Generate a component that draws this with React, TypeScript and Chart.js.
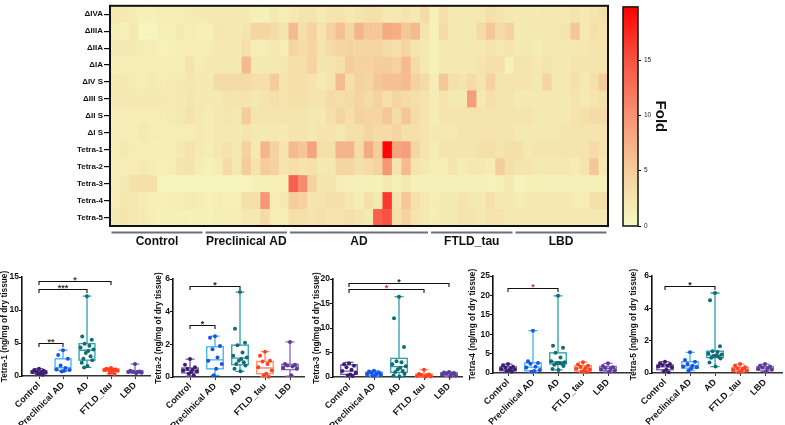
import React, { useEffect, useRef } from "react";
import { Chart, registerables } from "chart.js";
Chart.register(...registerables);

const FONT = 'Arial, "Liberation Sans", sans-serif';

// ---------------- Heatmap data ----------------
const rowLabels = ["ΔIVA", "ΔIIIA", "ΔIIA", "ΔIA", "ΔIV S", "ΔIII S", "ΔII S", "ΔI S", "Tetra-1", "Tetra-2", "Tetra-3", "Tetra-4", "Tetra-5"];
const groupNames = ["Control", "Preclinical AD", "AD", "FTLD_tau", "LBD"];
const groupSizes = [10, 9, 15, 9, 10];

const foldIVA = [2, 2, 1.5, 1.2, 1.2, 1.5, 1.5, 1.5, 1.8, 1.8, 1.8, 1.8, 1.8, 1.8, 1.8, 1.2, 1.0, 2.0, 1.5, 2.0, 2.5, 2.5, 1.8, 2.5, 2.5, 2.0, 2.5, 3, 3, 2, 2, 2.5, 2, 3.5, 1.0, 3, 2, 2, 2, 2.2, 3, 2.5, 2, 1.8, 1.8, 1.8, 2, 2, 2, 2.8, 2, 2.5, 3];
const foldIIIA = [1.5, 1.0, 2.0, 0.5, 0.5, 1.2, 1.2, 1.8, 1.5, 1.2, 1.2, 2.2, 1.8, 1.8, 2.5, 4.0, 4.0, 3.5, 2.5, 6.5, 3.0, 4.5, 2.5, 4.5, 6.0, 4.0, 7.0, 5.5, 5.5, 8.0, 7.5, 5.5, 6.5, 2.5, 1.0, 3.5, 2.0, 2.0, 2.0, 3.5, 5.5, 3.5, 4.5, 1.8, 1.8, 1.8, 1.8, 2.0, 2.5, 5.5, 2.0, 3.0, 2.5];
const foldIIA = [1.8, 1.8, 1.8, 1.5, 1.5, 1.0, 1.2, 1.5, 1.5, 1.5, 1.5, 1.8, 1.8, 1.8, 3.0, 1.5, 1.5, 1.8, 1.5, 4.0, 3.5, 4.0, 2.5, 3.5, 4.0, 4.5, 4.0, 4.0, 4.0, 3.5, 3.0, 4.0, 2.5, 2.0, 1.0, 2.0, 2.0, 2.0, 2.0, 2.0, 2.5, 2.0, 2.5, 1.8, 2.0, 1.5, 2.0, 2.0, 2.0, 2.0, 2.2, 2.5, 2.5];
const foldIA = [1.3, 1.5, 1.5, 1.5, 1.5, 1.5, 1.5, 1.5, 2.8, 1.5, 1.8, 1.8, 1.8, 1.8, 6.5, 1.8, 1.8, 2.0, 2.2, 3.0, 3.0, 4.5, 2.5, 2.5, 3.0, 5.0, 4.5, 4.5, 5.0, 5.0, 4.5, 6.5, 3.5, 2.0, 1.0, 2.0, 2.0, 2.0, 2.0, 2.5, 3.0, 3.0, 1.0, 2.5, 2.5, 2.0, 2.5, 2.0, 2.0, 2.5, 2.5, 2.5, 2.5];
const foldIVS = [2.0, 2.0, 1.7, 1.5, 1.8, 1.5, 1.8, 1.8, 2.2, 1.8, 1.8, 3.5, 3.5, 3.5, 3.5, 3.0, 3.0, 5.0, 2.5, 3.0, 3.0, 2.5, 1.8, 2.5, 6.5, 3.0, 4.5, 4.0, 5.5, 6.0, 6.0, 6.5, 4.5, 3.5, 1.5, 5.5, 3.0, 2.5, 3.5, 2.5, 4.5, 2.5, 2.5, 2.5, 2.5, 2.0, 4.0, 2.0, 2.0, 3.0, 2.0, 3.0, 5.0];
const foldIIIS = [1.8, 1.8, 1.8, 1.8, 1.8, 1.8, 1.8, 1.8, 2.3, 1.8, 1.8, 1.8, 2.5, 2.5, 2.5, 2.0, 2.5, 3.0, 2.5, 3.0, 3.0, 2.5, 2.5, 3.5, 3.0, 3.5, 4.0, 3.5, 4.5, 3.0, 4.0, 3.5, 3.0, 2.5, 1.5, 2.5, 2.0, 2.0, 9.0, 2.0, 3.0, 2.5, 2.5, 1.8, 1.8, 2.0, 2.0, 2.0, 2.0, 2.5, 1.8, 2.5, 3.0];
const foldIIS = [1.5, 1.5, 1.5, 1.5, 1.3, 1.5, 1.8, 2.0, 2.6, 2.0, 1.5, 2.0, 2.3, 2.0, 5.0, 2.5, 2.5, 2.5, 2.5, 2.5, 2.5, 2.0, 2.0, 3.0, 4.0, 3.0, 4.5, 4.0, 4.0, 5.5, 3.5, 5.5, 3.5, 2.5, 1.5, 2.5, 2.5, 2.5, 2.5, 2.5, 2.5, 2.5, 2.5, 2.5, 2.5, 2.0, 2.0, 2.0, 2.0, 2.5, 3.0, 3.5, 3.5];
const foldIS = [1.5, 1.5, 1.5, 2.0, 1.5, 1.5, 1.5, 1.5, 1.5, 1.8, 1.5, 2.0, 1.8, 1.8, 2.5, 2.0, 1.8, 2.0, 1.8, 2.5, 2.5, 2.0, 2.5, 2.5, 2.0, 3.0, 3.0, 4.0, 3.5, 3.5, 4.0, 3.0, 3.0, 2.5, 2.0, 2.0, 2.0, 2.5, 2.5, 2.5, 2.5, 2.5, 2.5, 2.0, 2.0, 2.0, 2.0, 2.0, 2.5, 2.5, 2.5, 2.5, 2.5];
const foldT1 = [1.5, 2.0, 1.5, 1.5, 1.3, 1.5, 1.5, 1.8, 2.8, 1.8, 1.5, 2.2, 2.8, 2.0, 4.5, 2.0, 7.0, 4.5, 2.5, 6.5, 5.5, 8.5, 3.0, 3.0, 7.0, 7.0, 3.5, 8.0, 5.0, 19.5, 8.5, 9.0, 4.0, 2.5, 1.5, 2.5, 2.5, 2.5, 2.5, 3.0, 3.0, 2.5, 3.0, 3.0, 2.0, 2.5, 2.5, 2.5, 2.5, 2.5, 2.5, 3.5, 2.5];
const foldT2 = [1.5, 1.5, 1.5, 1.8, 1.5, 1.2, 1.5, 2.5, 2.8, 1.5, 1.0, 1.5, 3.5, 2.0, 5.0, 2.5, 5.0, 4.5, 2.5, 3.0, 2.5, 3.0, 2.0, 2.0, 4.0, 4.0, 3.0, 3.5, 4.5, 9.5, 2.5, 6.5, 2.5, 2.0, 1.5, 1.5, 2.5, 1.5, 2.0, 2.0, 1.5, 5.0, 3.0, 2.5, 2.5, 2.0, 2.0, 2.0, 2.0, 1.5, 2.5, 5.5, 2.0];
const foldT3 = [1.5, 1.8, 3.0, 3.0, 3.0, 0.6, 0.6, 0.6, 0.6, 0.6, 0.6, 0.6, 0.6, 0.6, 0.6, 1.0, 1.0, 1.2, 1.0, 14.0, 10.5, 4.5, 2.5, 2.5, 1.5, 0.8, 0.8, 1.0, 1.0, 2.0, 1.0, 2.0, 1.0, 0.8, 0.8, 0.8, 0.8, 0.8, 0.8, 0.8, 1.0, 1.0, 2.0, 0.6, 1.0, 1.0, 1.0, 0.8, 0.8, 0.8, 1.0, 1.0, 1.0];
const foldT4 = [1.5, 2.2, 2.0, 1.5, 1.2, 1.2, 1.5, 1.5, 1.8, 1.5, 1.0, 1.5, 1.2, 1.2, 3.0, 3.0, 9.5, 1.5, 2.0, 5.0, 4.5, 2.5, 2.5, 3.0, 3.0, 2.0, 1.5, 3.0, 2.0, 16.5, 2.5, 5.5, 3.0, 2.0, 1.5, 2.0, 2.0, 2.5, 2.0, 2.0, 3.0, 2.0, 1.8, 1.5, 1.8, 1.8, 1.8, 1.8, 1.8, 1.5, 1.5, 3.0, 3.0];
const foldT5 = [1.8, 2.5, 2.0, 1.8, 1.3, 1.0, 1.0, 1.2, 1.0, 1.0, 1.0, 1.3, 1.5, 1.5, 2.0, 2.0, 3.5, 1.5, 1.5, 3.0, 3.0, 2.5, 3.0, 2.5, 2.5, 3.0, 2.5, 2.0, 14.0, 15.0, 3.0, 4.5, 2.5, 2.0, 1.5, 2.0, 2.0, 2.5, 2.5, 2.0, 2.5, 2.5, 2.0, 1.8, 1.8, 2.0, 2.0, 1.8, 1.8, 1.8, 2.0, 2.0, 2.0];
const heatRows = [foldIVA, foldIIIA, foldIIA, foldIA, foldIVS, foldIIIS, foldIIS, foldIS, foldT1, foldT2, foldT3, foldT4, foldT5];

const foldMax = 19.8;
const foldTicks = [0, 5, 10, 15];
const foldStops: [number, number[]][] = [
  [0, [247, 247, 192]],
  [2, [245, 233, 178]],
  [5, [245, 205, 155]],
  [10, [246, 146, 114]],
  [15, [248, 82, 66]],
  [19.8, [255, 0, 0]],
];

function foldColor(v: number) {
  for (let i = 1; i < foldStops.length; i++) {
    const [v1, c1] = foldStops[i];
    const [v0, c0] = foldStops[i - 1];
    if (v <= v1 || i === foldStops.length - 1) {
      const t = Math.max(0, Math.min(1, (v - v0) / (v1 - v0)));
      const c = c0.map((a, k) => Math.round(a + (c1[k] - a) * t));
      return `rgb(${c[0]},${c[1]},${c[2]})`;
    }
  }
  return "rgb(255,0,0)";
}

// ---------------- Box plot data ----------------
const boxColors = ["#7450ae", "#38b4ee", "#2a9fae", "#ff8a66", "#8a68c0"];
const pointColors = ["#3b2070", "#1f52e4", "#0f6d73", "#ff4020", "#5c3c98"];

const tetra1Points = [
  [1.1, 0.9, 0.8, 0.7, 0.6, 0.6, 0.5, 0.4, 0.3, 0.2],
  [3.9, 3.2, 2.6, 1.6, 1.2, 1.0, 0.9, 0.8, 0.7],
  [12.1, 6.0, 5.5, 4.9, 4.6, 4.3, 4.0, 3.8, 3.5, 3.0, 2.6, 2.4, 2.0, 1.5, 1.3],
  [1.2, 1.1, 1.0, 1.0, 0.9, 0.9, 0.8, 0.7, 0.5, 0.3],
  [1.8, 0.8, 0.7, 0.7, 0.6, 0.6, 0.5, 0.4],
];
const tetra1Box = [[0.2, 0.4, 0.6, 0.8, 1.1], [0.7, 0.85, 1.25, 2.6, 3.9], [1.3, 2.4, 3.9, 4.9, 12.1], [0.3, 0.7, 0.9, 1.1, 1.2], [0.4, 0.5, 0.65, 0.8, 1.8]];
const tetra1Ticks = [0, 5, 10, 15];
const tetra1Sig: [number, number, number, string, string][] = [[1, 2, 5.0, "**", "#3a3a22"], [1, 3, 13.2, "***", "#1f3a22"], [1, 4, 14.4, "*", "#1f4a22"]];

const tetra2Points = [
  [1.1, 0.75, 0.6, 0.5, 0.45, 0.4, 0.35, 0.3, 0.2, 0.1],
  [2.5, 2.4, 1.9, 1.7, 1.2, 1.0, 0.8, 0.5, 0.1],
  [5.2, 2.95, 2.1, 1.95, 1.5, 1.3, 1.2, 1.1, 1.0, 0.9, 0.8, 0.7, 0.5, 0.35],
  [1.55, 1.3, 1.0, 0.95, 0.8, 0.6, 0.4, 0.2, 0.1, 0.02],
  [2.15, 0.8, 0.75, 0.7, 0.65, 0.55, 0.5, 0.1],
];
const tetra2Box = [[0.05, 0.25, 0.4, 0.55, 1.1], [0.1, 0.5, 1.05, 1.85, 2.5], [0.35, 0.75, 1.15, 1.95, 5.2], [0.02, 0.2, 0.55, 0.95, 1.55], [0.05, 0.45, 0.65, 0.78, 2.15]];
const tetra2Ticks = [0, 2, 4, 6];
const tetra2Sig: [number, number, number, string, string][] = [[1, 2, 3.2, "*", "#222"], [1, 3, 5.58, "*", "#222"]];

const tetra3Points = [
  [2.8, 2.6, 2.3, 2.0, 1.5, 1.2, 0.8, 0.5, 0.3, 0.2],
  [1.3, 1.1, 0.9, 0.8, 0.7, 0.6, 0.5, 0.3, 0.2],
  [16.4, 12.0, 6.1, 3.2, 3.0, 2.6, 2.2, 1.9, 1.6, 1.2, 1.0, 0.6, 0.3, 0.1],
  [1.5, 0.6, 0.5, 0.4, 0.3, 0.2, 0.1, 0.05],
  [1.0, 0.9, 0.8, 0.7, 0.6, 0.5, 0.3, 0.1],
];
const tetra3Box = [[0.1, 0.55, 1.2, 2.5, 3.0], [0.1, 0.3, 0.7, 1.0, 1.3], [0.0, 0.95, 2.1, 3.8, 16.4], [0.0, 0.05, 0.2, 0.6, 1.5], [0.1, 0.35, 0.6, 0.9, 1.0]];
const tetra3Ticks = [0, 5, 10, 15, 20];
const tetra3Sig: [number, number, number, string, string][] = [[1, 5, 19.2, "*", "#222"], [1, 4, 17.9, "*", "#d03030"]];

const tetra4Points = [
  [2.3, 2.0, 1.6, 1.4, 1.2, 1.0, 0.9, 0.7, 0.5, 0.3],
  [10.9, 3.0, 2.6, 2.4, 1.6, 1.4, 0.8, 0.5, 0.3],
  [19.9, 7.0, 6.5, 5.2, 4.0, 3.0, 2.8, 2.6, 2.5, 2.4, 2.1, 1.8, 1.0, 0.8],
  [2.8, 2.2, 1.9, 1.6, 1.3, 1.1, 0.9, 0.6, 0.4, 0.2],
  [2.5, 1.8, 1.5, 1.3, 1.1, 0.9, 0.6, 0.3],
];
const tetra4Box = [[0.3, 0.6, 1.0, 1.6, 2.3], [0.3, 0.6, 1.5, 2.6, 10.9], [0.8, 2.3, 2.9, 5.2, 19.9], [0.2, 0.5, 1.2, 1.9, 2.8], [0.3, 0.6, 1.2, 1.7, 2.5]];
const tetra4Ticks = [0, 5, 10, 15, 20, 25];
const tetra4Sig: [number, number, number, string, string][] = [[1, 3, 22.0, "*", "#d03030"]];

const tetra5Points = [
  [0.7, 0.6, 0.55, 0.5, 0.45, 0.4, 0.35, 0.2, 0.1, 0.05],
  [1.28, 0.8, 0.7, 0.55, 0.45, 0.4, 0.35, 0.3, 0.15],
  [4.95, 4.5, 1.65, 1.35, 1.3, 1.2, 1.15, 1.1, 1.05, 1.0, 0.95, 0.9, 0.65, 0.4],
  [0.55, 0.45, 0.35, 0.3, 0.25, 0.2, 0.15, 0.1, 0.05],
  [0.55, 0.45, 0.4, 0.35, 0.3, 0.25, 0.2, 0.1],
];
const tetra5Box = [[0.05, 0.2, 0.38, 0.5, 0.7], [0.15, 0.3, 0.45, 0.7, 1.28], [0.4, 0.95, 1.1, 1.35, 4.95], [0.05, 0.1, 0.2, 0.35, 0.55], [0.1, 0.18, 0.3, 0.4, 0.55]];
const tetra5Ticks = [0, 2, 4, 6];
const tetra5Sig: [number, number, number, string, string][] = [[1, 3, 5.4, "*", "#222"]];

// layout-only constants
const JITTER = [0, -0.2, 0.2, -0.1, 0.1, -0.27, 0.27, 0.05, -0.05, 0.15, -0.15, 0.22, -0.22, 0.02, -0.12];
const BOX_HALF = 0.33;
const CAP_HALF = 0.18;

// ---------------- Components ----------------
function Heatmap() {
  const ref = useRef<HTMLCanvasElement>(null);
  useEffect(() => {
    const nCols = groupSizes.reduce((a, b) => a + b, 0);
    const cells = {
      id: "cells",
      beforeDatasetsDraw(chart: any) {
        const { ctx, scales } = chart;
        const x = scales.x, y = scales.y;
        const h = y.getPixelForValue(1) - y.getPixelForValue(0);
        ctx.save();
        heatRows.forEach((row, r) => {
          const yc = y.getPixelForValue(r);
          row.forEach((v, c) => {
            const x0 = x.getPixelForValue(c);
            const x1 = x.getPixelForValue(c + 1);
            ctx.fillStyle = foldColor(v);
            ctx.fillRect(x0, yc - h / 2, x1 - x0 + 0.6, h + 0.6);
          });
        });
        ctx.restore();
      },
      afterDraw(chart: any) {
        const { ctx, chartArea, scales } = chart;
        const x = scales.x;
        ctx.save();
        ctx.strokeStyle = "#111";
        ctx.lineWidth = 2;
        ctx.strokeRect(chartArea.left, chartArea.top, chartArea.right - chartArea.left, chartArea.bottom - chartArea.top);
        let start = 0;
        groupSizes.forEach((n, g) => {
          const x0 = x.getPixelForValue(start) + 1.5;
          const x1 = x.getPixelForValue(start + n) - 1.5;
          ctx.strokeStyle = "#707070";
          ctx.lineWidth = 2;
          ctx.beginPath();
          ctx.moveTo(x0, chartArea.bottom + 6.5);
          ctx.lineTo(x1, chartArea.bottom + 6.5);
          ctx.stroke();
          ctx.fillStyle = "#111";
          ctx.font = `bold 12px ${FONT}`;
          ctx.textAlign = "center";
          ctx.textBaseline = "middle";
          ctx.fillText(groupNames[g], (x0 + x1) / 2, chartArea.bottom + 16);
          start += n;
        });
        ctx.restore();
      },
    };
    const chart = new Chart(ref.current!, {
      type: "scatter",
      data: { datasets: [{ data: [] }] },
      options: {
        animation: false,
        responsive: false,
        events: [],
        layout: { padding: { top: 2, right: 7, bottom: 24, left: 0 } },
        plugins: { legend: { display: false }, tooltip: { enabled: false } },
        scales: {
          x: { type: "linear", min: 0, max: nCols, display: false },
          y: {
            type: "category",
            labels: rowLabels,
            offset: true,
            border: { display: false },
            grid: { drawOnChartArea: false, drawTicks: true, tickLength: 6, color: "#000", lineWidth: 1.2, offset: false },
            ticks: { color: "#111", padding: 1, font: { family: FONT, size: 8, weight: "bold" } },
            afterFit: (s: any) => { s.width = 110; },
          },
        },
      } as any,
      plugins: [cells],
    });
    return () => chart.destroy();
  }, []);
  return <canvas ref={ref} width={615} height={250} style={{ position: "absolute", left: 0, top: 0 }} />;
}

function ColorBar() {
  const ref = useRef<HTMLCanvasElement>(null);
  useEffect(() => {
    const grad = {
      id: "grad",
      beforeDatasetsDraw(chart: any) {
        const { ctx, chartArea, scales } = chart;
        const y = scales.y;
        const g = ctx.createLinearGradient(0, y.getPixelForValue(0), 0, y.getPixelForValue(foldMax));
        foldStops.forEach(([v]) => g.addColorStop(v / foldMax, foldColor(v)));
        ctx.save();
        ctx.fillStyle = g;
        ctx.fillRect(chartArea.left, chartArea.top, chartArea.right - chartArea.left, chartArea.bottom - chartArea.top);
        ctx.strokeStyle = "#111";
        ctx.lineWidth = 1.5;
        ctx.strokeRect(chartArea.left, chartArea.top, chartArea.right - chartArea.left, chartArea.bottom - chartArea.top);
        ctx.restore();
      },
    };
    const chart = new Chart(ref.current!, {
      type: "scatter",
      data: { datasets: [{ data: [] }] },
      options: {
        animation: false,
        responsive: false,
        events: [],
        layout: { padding: { top: 2, right: 0, bottom: 24, left: 8 } },
        plugins: { legend: { display: false }, tooltip: { enabled: false } },
        scales: {
          x: { type: "linear", display: false, min: 0, max: 1 },
          y: {
            type: "linear",
            position: "right",
            min: 0,
            max: foldMax,
            border: { display: false },
            grid: { drawOnChartArea: false, tickLength: 3, color: "#000" },
            afterBuildTicks: (s: any) => { s.ticks = foldTicks.map((v) => ({ value: v })); },
            ticks: { color: "#222", padding: 3, font: { family: FONT, size: 6.5 } },
            title: { display: true, text: "Fold", color: "#111", padding: 0, font: { family: FONT, size: 15, weight: "bold" } },
            afterFit: (s: any) => { s.width = 31; },
          },
        },
      } as any,
      plugins: [grad],
    });
    return () => chart.destroy();
  }, []);
  return <canvas ref={ref} width={54} height={250} style={{ position: "absolute", left: 615, top: 0 }} />;
}

type PanelProps = {
  title: string;
  points: number[][];
  boxes: number[][];
  ticks: number[];
  sig: [number, number, number, string, string][];
  left: number;
  axisX: number;
  axisEnd: number;
  topPx: number;
  bottomPx: number;
  firstCenter: number;
  spacing: number;
};

const PANEL_TOP = 262;
const PANEL_H = 163;

function BoxPanel(p: PanelProps) {
  const ref = useRef<HTMLCanvasElement>(null);
  useEffect(() => {
    const xMin = 1 - (p.firstCenter - p.axisX) / p.spacing;
    const xMax = 1 + (p.axisEnd - p.firstCenter) / p.spacing;
    const yMax = p.ticks[p.ticks.length - 1];
    const boxPlugin = {
      id: "box",
      beforeDatasetsDraw(chart: any) {
        const { ctx, scales } = chart;
        const x = scales.x, y = scales.y;
        ctx.save();
        p.boxes.forEach((b, i) => {
          const cx = x.getPixelForValue(i + 1);
          const hw = x.getPixelForValue(i + 1 + BOX_HALF) - cx;
          const cw = x.getPixelForValue(i + 1 + CAP_HALF) - cx;
          const [mn, q1, md, q3, mx] = b.map((v) => y.getPixelForValue(v));
          ctx.strokeStyle = boxColors[i];
          ctx.lineWidth = 1.3;
          ctx.strokeRect(cx - hw, q3, 2 * hw, q1 - q3);
          ctx.beginPath();
          ctx.moveTo(cx - hw, md); ctx.lineTo(cx + hw, md);
          ctx.moveTo(cx, q3); ctx.lineTo(cx, mx);
          ctx.moveTo(cx, q1); ctx.lineTo(cx, mn);
          ctx.moveTo(cx - cw, mx); ctx.lineTo(cx + cw, mx);
          ctx.moveTo(cx - cw, mn); ctx.lineTo(cx + cw, mn);
          ctx.stroke();
        });
        ctx.restore();
      },
      afterDatasetsDraw(chart: any) {
        const { ctx, scales } = chart;
        const x = scales.x, y = scales.y;
        ctx.save();
        p.sig.forEach(([a, b, lvl, label, col]) => {
          const x0 = x.getPixelForValue(a);
          const x1 = x.getPixelForValue(b);
          const yy = Math.round(y.getPixelForValue(lvl)) + 0.5;
          ctx.strokeStyle = "#111";
          ctx.lineWidth = 1.1;
          ctx.beginPath();
          ctx.moveTo(x0, yy + 3.5); ctx.lineTo(x0, yy); ctx.lineTo(x1, yy); ctx.lineTo(x1, yy + 3.5);
          ctx.stroke();
          ctx.fillStyle = col;
          ctx.font = `bold 9px ${FONT}`;
          ctx.textAlign = "center";
          ctx.textBaseline = "alphabetic";
          ctx.fillText(label, (x0 + x1) / 2, yy + 1);
        });
        ctx.restore();
      },
    };
    const chart = new Chart(ref.current!, {
      type: "scatter",
      data: {
        datasets: p.points.map((pts, i) => ({
          data: pts.map((v, j) => ({ x: i + 1 + JITTER[j % JITTER.length], y: v })),
          pointRadius: 2,
          pointBackgroundColor: pointColors[i],
          pointBorderWidth: 0,
          showLine: false,
          clip: false,
        })),
      },
      options: {
        animation: false,
        responsive: false,
        events: [],
        layout: { padding: { top: p.topPx - PANEL_TOP, right: 12, bottom: 0, left: 0 } },
        plugins: { legend: { display: false }, tooltip: { enabled: false } },
        scales: {
          x: {
            type: "linear",
            min: xMin,
            max: xMax,
            border: { display: true, color: "#333", width: 1.6 },
            grid: { drawOnChartArea: false, tickLength: 3, color: "#333" },
            afterBuildTicks: (s: any) => { s.ticks = groupNames.map((_, i) => ({ value: i + 1 })); },
            ticks: {
              autoSkip: false,
              minRotation: 45,
              maxRotation: 45,
              padding: 1,
              color: "#111",
              font: { family: FONT, size: 9, weight: "bold" },
              callback: (v: any) => groupNames[Math.round(Number(v)) - 1],
            },
            afterFit: (s: any) => { s.height = PANEL_H - (p.bottomPx - PANEL_TOP); },
          },
          y: {
            type: "linear",
            min: 0,
            max: yMax,
            border: { display: true, color: "#111", width: 1.6 },
            grid: { drawOnChartArea: false, tickLength: 3, color: "#111" },
            afterBuildTicks: (s: any) => { s.ticks = p.ticks.map((v) => ({ value: v })); },
            ticks: { color: "#111", padding: 0, font: { family: FONT, size: 8.5, weight: "bold" } },
            title: { display: true, text: p.title, color: "#111", padding: 0, font: { family: FONT, size: 8.3, weight: "bold" } },
            afterFit: (s: any) => { s.width = p.axisX - p.left; },
          },
        },
      } as any,
      plugins: [boxPlugin],
    });
    return () => chart.destroy();
  }, []);
  const width = p.axisEnd - p.left + 12;
  return <canvas ref={ref} width={width} height={PANEL_H} style={{ position: "absolute", left: p.left, top: PANEL_TOP }} />;
}

export default function App() {
  return (
    <div style={{ position: "absolute", left: 0, top: 0, width: 785, height: 425, background: "#fff", overflow: "hidden" }}>
      <Heatmap />
      <ColorBar />
      <BoxPanel title="Tetra-1 (ng/mg of dry tissue)" points={tetra1Points} boxes={tetra1Box} ticks={tetra1Ticks} sig={tetra1Sig}
        left={0} axisX={22} axisEnd={150} topPx={277} bottomPx={376} firstCenter={39} spacing={24} />
      <BoxPanel title="Tetra-2 (ng/mg of dry tissue)" points={tetra2Points} boxes={tetra2Box} ticks={tetra2Ticks} sig={tetra2Sig}
        left={154} axisX={173} axisEnd={304} topPx={279} bottomPx={377} firstCenter={190} spacing={25} />
      <BoxPanel title="Tetra-3 (ng/mg of dry tissue)" points={tetra3Points} boxes={tetra3Box} ticks={tetra3Ticks} sig={tetra3Sig}
        left={312} axisX={333} axisEnd={462} topPx={279} bottomPx={377} firstCenter={349} spacing={25} />
      <BoxPanel title="Tetra-4 (ng/mg of dry tissue)" points={tetra4Points} boxes={tetra4Box} ticks={tetra4Ticks} sig={tetra4Sig}
        left={468} axisX={493} axisEnd={630} topPx={276} bottomPx={373} firstCenter={508} spacing={25} />
      <BoxPanel title="Tetra-5 (ng/mg of dry tissue)" points={tetra5Points} boxes={tetra5Box} ticks={tetra5Ticks} sig={tetra5Sig}
        left={629} axisX={652} axisEnd={782} topPx={276} bottomPx={373} firstCenter={665} spacing={25} />
    </div>
  );
}
